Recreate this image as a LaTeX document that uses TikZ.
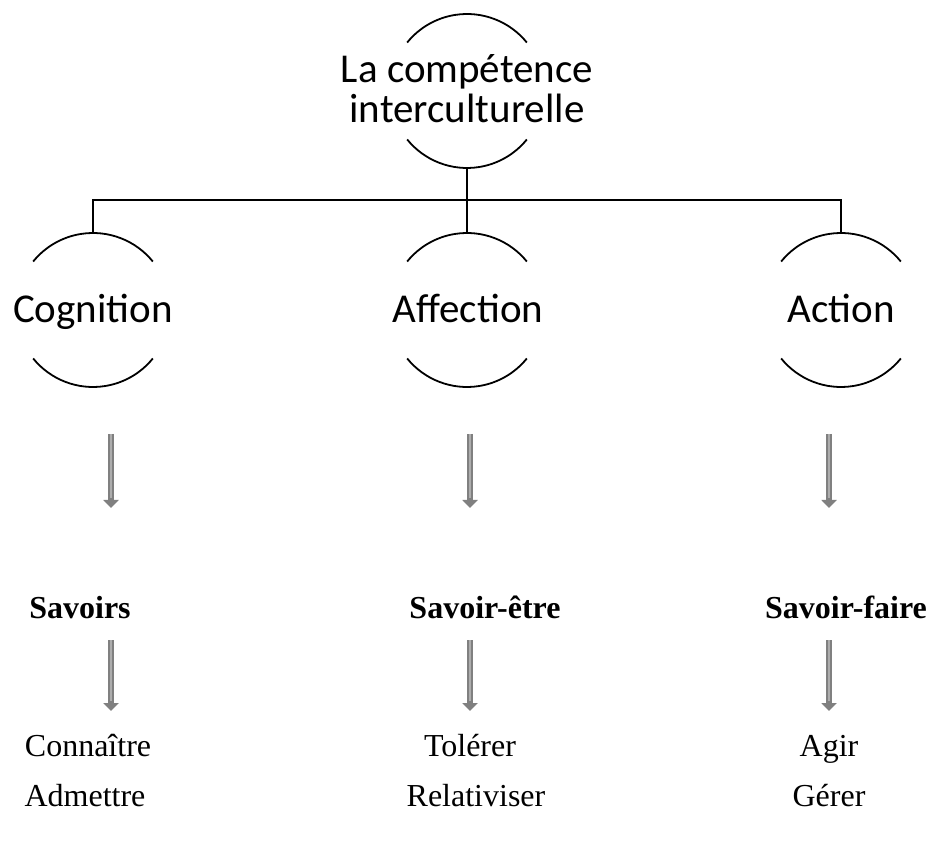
\documentclass[tikz,border=0pt]{standalone}
\usepackage{fontspec}
\setmainfont{Liberation Serif}
\newfontfamily\calib{Carlito}
\usetikzlibrary{arrows.meta}

\begin{document}
\begin{tikzpicture}[x=1pt,y=1pt,
  line cap=butt,line join=miter,
  L/.style={line width=1.6pt},
  rim/.style={line width=1.8pt},
  ring/.style={circle,minimum size=154pt,inner sep=0pt,outer sep=0pt},
  big/.style={font=\calib\fontsize{41}{40}\selectfont,anchor=base,inner sep=0pt},
  sv/.style={font=\fontsize{32}{36}\selectfont\bfseries,anchor=base,inner sep=0pt},
  vb/.style={font=\fontsize{32}{36}\selectfont,anchor=base,inner sep=0pt},
  shaft/.style={line width=6.5pt,draw=black!50,-{Triangle[width=15pt,length=8pt]}},
  core/.style={line width=2.4pt,draw=black!32,shorten >=10pt}]
  \useasboundingbox (0,0) rectangle (928,841);

  %% ---- rings (text-less circles, only two arcs of each are drawn)
  \node[ring] (comp) at (467,750) {};
  \node[ring] (cog)  at (93,531)  {};
  \node[ring] (aff)  at (467,531) {};
  \node[ring] (act)  at (841,531) {};
  \foreach \r in {comp,cog,aff,act} {
    \draw[rim] (\r.39)  arc (39:141:77);
    \draw[rim] (\r.-141) arc (-141:-39:77);
  }

  %% ---- tree
  \coordinate (bar) at (467,641);
  \draw[L,line width=2.4pt] (comp.south) -- (bar);
  \draw[L] (cog.north) |- (bar) -| (act.north);
  \draw[L] (bar) -- (aff.north);

  %% ---- sans labels
  \node[big] (compa) at (467,758) {La compétence};
  \node[big] (compb) at (467,718) {interculturelle};
  \node[big] (cogt)  at (93,518)  {Cognition};
  \node[big] (afft)  at (468,518) {Affection};
  \node[big] (actt)  at (841,518) {Action};

  %% ---- serif labels
  \node[sv] (sav)  at (80,223)  {Savoirs};
  \node[sv] (savE) at (485,223) {Savoir-être};
  \node[sv] (savF) at (846,223) {Savoir-faire};
  \node[vb] (con) at (88,85) {Connaître};
  \node[vb] (adm) at (85,35) {Admettre};
  \node[vb] (tol) at (470,85) {Tolérer};
  \node[vb] (rel) at (476,35) {Relativiser};
  \node[vb] (agi) at (829,85) {Agir};
  \node[vb] (ger) at (829,35) {Gérer};

  %% ---- grey arrows, two per column
  \foreach \n/\x in {cog/111,aff/470,act/829} {
    \coordinate (\n-a) at (\x,407);
    \coordinate (\n-b) at (\x,333);
    \coordinate (\n-c) at (\x,201);
    \coordinate (\n-d) at (\x,130);
    \draw[shaft] (\n-a) -- (\n-b);
    \draw[core]  (\n-a) -- (\n-b);
    \draw[shaft] (\n-c) -- (\n-d);
    \draw[core]  (\n-c) -- (\n-d);
  }
\end{tikzpicture}
\end{document}
